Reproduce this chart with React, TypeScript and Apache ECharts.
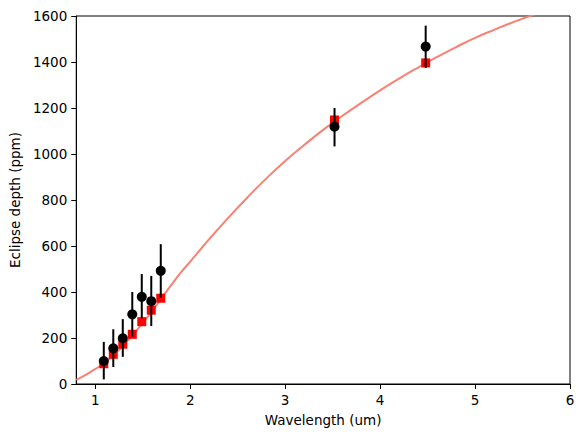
import React, { useEffect, useRef } from "react";
import * as echarts from "echarts";

const wavelengths = [1.09, 1.19, 1.29, 1.39, 1.49, 1.59, 1.69, 3.52, 4.48];
const observed = [100, 155, 199, 303, 379, 360, 492, 1119, 1467];
const errLow = [20, 74, 118, 206, 286, 252, 376, 1033, 1374];
const errHigh = [183, 238, 282, 400, 478, 470, 608, 1200, 1558];
const binnedModel = [88, 129, 173, 216, 271, 321, 373, 1148, 1396];

const modelWavelengths = [
  0.8, 0.9, 1.0, 1.1, 1.2, 1.3, 1.4, 1.5, 1.6, 1.7, 1.8, 1.9, 2.0, 2.2, 2.4, 2.6,
  2.8, 3.0, 3.2, 3.4, 3.6, 3.8, 4.0, 4.2, 4.4, 4.6, 4.8, 5.0, 5.2, 5.4, 5.6, 5.8, 6.0,
];
const modelDepth = [
  18, 40, 65, 93, 128, 170, 215, 265, 318, 375, 430, 484, 532, 630, 722, 810,
  893, 970, 1039, 1105, 1165, 1222, 1277, 1328, 1376, 1422, 1465, 1505, 1540, 1573, 1603, 1630, 1655,
];

const xTicks = [1, 2, 3, 4, 5, 6];

export default function App() {
  const ref = useRef<HTMLDivElement>(null);
  useEffect(() => {
    if (!ref.current) return;
    const chart = echarts.init(ref.current, null, { renderer: "svg" });
    const font = "DejaVu Sans";
    chart.setOption({
      animation: false,
      backgroundColor: "#fff",
      textStyle: { fontFamily: font },
      grid: {
        left: 75,
        right: 14,
        top: 16,
        bottom: 54,
        show: true,
        borderColor: "#000",
        borderWidth: 1,
        backgroundColor: "transparent",
      },
      xAxis: {
        type: "value",
        min: 0.8,
        max: 6,
        name: "Wavelength (um)",
        nameLocation: "middle",
        nameGap: 29,
        nameTextStyle: { fontFamily: font, fontSize: 13.5, color: "#000" },
        axisLine: { show: true, lineStyle: { color: "#000", width: 1 } },
        axisTick: { show: true, length: 5, lineStyle: { color: "#000" }, customValues: xTicks },
        axisLabel: {
          fontFamily: font,
          fontSize: 13.5,
          color: "#000",
          margin: 9,
          customValues: xTicks,
          formatter: (v: number) => String(v),
        },
        splitLine: { show: false },
      },
      yAxis: {
        type: "value",
        min: 0,
        max: 1600,
        interval: 200,
        name: "Eclipse depth (ppm)",
        nameLocation: "middle",
        nameGap: 54,
        nameTextStyle: { fontFamily: font, fontSize: 13.5, color: "#000" },
        axisLine: { show: true, lineStyle: { color: "#000", width: 1 } },
        axisTick: { show: true, length: 5, lineStyle: { color: "#000" } },
        axisLabel: {
          fontFamily: font,
          fontSize: 13.5,
          color: "#000",
          margin: 9,
          formatter: (v: number) => String(v),
        },
        splitLine: { show: false },
      },
      series: [
        {
          type: "line",
          data: modelWavelengths.map((w, i) => [w, modelDepth[i]]),
          showSymbol: false,
          smooth: true,
          clip: true,
          lineStyle: { color: "#fa8072", width: 2 },
          z: 1,
        },
        {
          type: "scatter",
          data: wavelengths.map((w, i) => [w, binnedModel[i]]),
          symbol: "rect",
          symbolSize: 9,
          itemStyle: { color: "#ff0000", opacity: 1 },
          z: 2,
        },
        {
          type: "custom",
          data: wavelengths.map((w, i) => [w, errLow[i], errHigh[i]]),
          renderItem: (params: any, api: any) => {
            const x = api.value(0);
            const lo = api.coord([x, api.value(1)]);
            const hi = api.coord([x, api.value(2)]);
            return {
              type: "line",
              shape: { x1: lo[0], y1: lo[1], x2: hi[0], y2: hi[1] },
              style: { stroke: "#000", lineWidth: 2 },
            };
          },
          z: 3,
        },
        {
          type: "scatter",
          data: wavelengths.map((w, i) => [w, observed[i]]),
          symbol: "circle",
          symbolSize: 10,
          itemStyle: { color: "#000", opacity: 1 },
          z: 4,
        },
      ],
    });
    return () => chart.dispose();
  }, []);
  return <div ref={ref} style={{ width: 584, height: 438, position: "absolute", left: 0, top: 0 }} />;
}
